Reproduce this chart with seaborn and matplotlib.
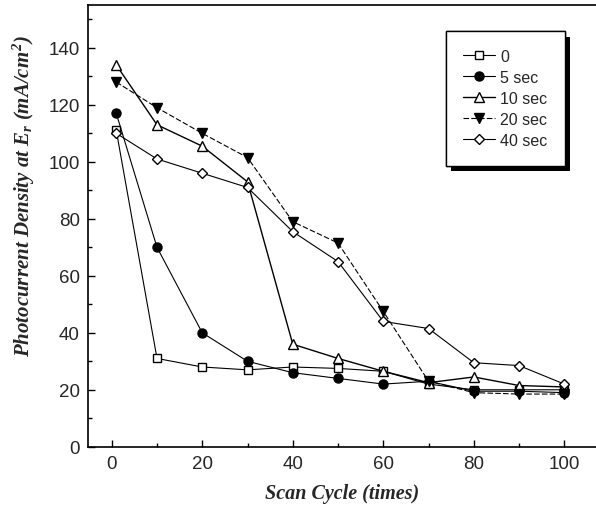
import numpy as np
import pandas as pd
import matplotlib
matplotlib.use("Agg")
import matplotlib.pyplot as plt
import matplotlib.patheffects as pe
import seaborn as sns

# Scan cycles and photocurrent density for each treatment time
cycles = [1, 10, 20, 30, 40, 50, 60, 70, 80, 90, 100]
labels = ["0", "5 sec", "10 sec", "20 sec", "40 sec"]
y_0 = [111, 31, 28, 27, 28, 27.5, 26.5, 22, 20, 20, 20]
y_5 = [117, 70, 40, 30, 26, 24, 22, 23, 19.5, 19.5, 19]
y_10 = [134, 113, 105.5, 93, 36, 31, 26.5, 22.5, 24.5, 21.5, 21]
y_20 = [128, 119, 110, 101.5, 79, 71.5, 47.5, 23, 19, 18.5, 18.5]
y_40 = [110, 101, 96, 91, 75.5, 65, 44, 41.5, 29.5, 28.5, 22]

series = [y_0, y_5, y_10, y_20, y_40]
df = pd.DataFrame({
    "cycle": cycles * len(series),
    "density": np.concatenate(series),
    "group": np.repeat(labels, len(cycles)),
})

sns.set_style("ticks")
plt.rcParams["mathtext.fontset"] = "custom"
plt.rcParams["mathtext.it"] = "Liberation Serif:italic:bold"
plt.rcParams["mathtext.rm"] = "Liberation Serif:italic:bold"
plt.rcParams["mathtext.bf"] = "Liberation Serif:italic:bold"

fig = plt.figure(figsize=(5.96, 5.10), dpi=100)
ax = fig.add_axes([0.148, 0.122, 0.852, 0.866])

styles = {
    "0": dict(marker="s", mfc="white", ls="-", lw=0.8, ms=5.5),
    "5 sec": dict(marker="o", mfc="black", ls="-", lw=0.8, ms=6.5),
    "10 sec": dict(marker="^", mfc="white", ls="-", lw=1.0, ms=7.5),
    "20 sec": dict(marker="v", mfc="black", ls=(0, (5, 2)), lw=0.8, ms=7.5),
    "40 sec": dict(marker="D", mfc="white", ls="-", lw=0.8, ms=5.5),
}

for lab in labels:
    st = styles[lab]
    sub = df[df["group"] == lab]
    sns.lineplot(data=sub, x="cycle", y="density", ax=ax, color="black",
                 marker=st["marker"], markerfacecolor=st["mfc"],
                 markeredgecolor="black", markeredgewidth=1.0,
                 markersize=st["ms"], linestyle=st["ls"],
                 linewidth=st["lw"], label=lab)

ax.set_xlim(-5.2, 107)
ax.set_ylim(0, 155)
ax.set_xticks(range(0, 101, 20))
ax.set_xticks(range(10, 101, 20), minor=True)
ax.set_yticks(range(0, 141, 20))
ax.set_yticks(range(10, 151, 20), minor=True)
ax.tick_params(which="both", direction="in", color="black")
ax.tick_params(which="major", length=5, width=1, labelsize=13.5, pad=6)
ax.tick_params(which="minor", length=3, width=1)
for t in ax.get_xticklabels() + ax.get_yticklabels():
    t.set_fontfamily("Liberation Sans")

ax.spines["right"].set_visible(False)
for s in ["left", "bottom", "top"]:
    ax.spines[s].set_color("black")
    ax.spines[s].set_linewidth(1.2)

ax.set_xlabel("Scan Cycle (times)", fontfamily="Liberation Serif",
              fontstyle="italic", fontweight="bold", fontsize=14.5, labelpad=8)
ax.set_ylabel(r"Photocurrent Density at $E_r$ $(mA/cm^2)$",
              fontfamily="Liberation Serif", fontstyle="italic",
              fontweight="bold", fontsize=15, labelpad=8)
ax.yaxis.set_label_coords(-0.10, 0.57)

leg = ax.legend(loc="upper left", bbox_to_anchor=(0.748, 0.937),
                bbox_transform=fig.transFigure,
                frameon=True, fancybox=False, edgecolor="black",
                facecolor="white", framealpha=1.0,
                prop={"family": "Liberation Sans", "size": 11.5},
                handlelength=2.0, handletextpad=0.3, labelspacing=0.38,
                borderpad=1.1, borderaxespad=0)
leg.get_frame().set_linewidth(1.0)
leg.get_frame().set_path_effects([
    pe.withSimplePatchShadow(offset=(4, -4), shadow_rgbFace="black", alpha=1.0),
    pe.Normal(),
])

fig.savefig("out.png", dpi=100)
